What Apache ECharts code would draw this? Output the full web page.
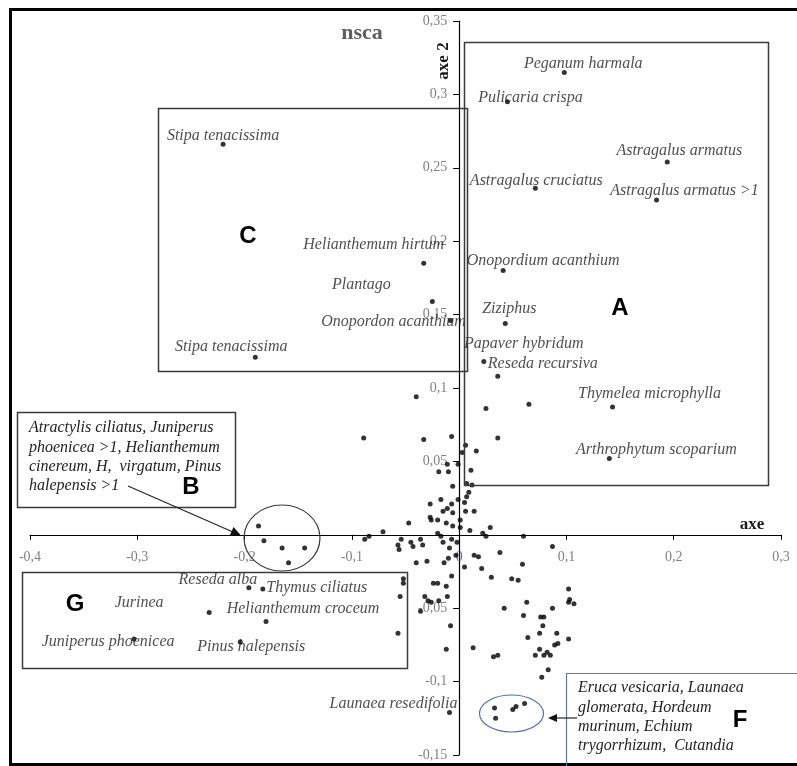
<!DOCTYPE html>
<html>
<head>
<meta charset="utf-8">
<script src="https://cdn.jsdelivr.net/npm/echarts@6/dist/echarts.min.js"></script>
<style>html,body{margin:0;padding:0;background:#fff}#c{width:797px;height:766px}</style>
</head>
<body>
<div id="c"></div>
<script>
// ---- axis ticks ----
const xTicks = [-0.4, -0.3, -0.2, -0.1, 0, 0.1, 0.2, 0.3];
const yTicks = [-0.15, -0.1, -0.05, 0, 0.05, 0.1, 0.15, 0.2, 0.25, 0.3, 0.35];

// ---- labelled species ----
const speciesNames = [
  'Peganum harmala', 'Pulicaria crispa', 'Astragalus armatus', 'Astragalus armatus >1',
  'Astragalus cruciatus', 'Onopordium acanthium', 'Ziziphus', 'Papaver hybridum',
  'Reseda recursiva', 'Thymelea microphylla', 'Arthrophytum scoparium',
  'Stipa tenacissima', 'Helianthemum hirtum', 'Plantago', 'Onopordon acanthium', 'Stipa tenacissima',
  'Reseda alba', 'Thymus ciliatus', 'Jurinea', 'Helianthemum croceum', 'Juniperus phoenicea',
  'Pinus halepensis', 'Launaea resedifolia'
];
const speciesX = [0.098, 0.045, 0.194, 0.184, 0.071, 0.041, 0.043, 0.036, 0.023, 0.143, 0.140,
  -0.220, -0.033, -0.025, -0.008, -0.190, -0.196, -0.183, -0.233, -0.180, -0.303, -0.204, -0.009];
const speciesY = [0.315, 0.295, 0.254, 0.228, 0.236, 0.180, 0.144, 0.108, 0.118, 0.087, 0.052,
  0.266, 0.185, 0.159, 0.146, 0.121, -0.036, -0.037, -0.053, -0.059, -0.071, -0.073, -0.121];

// ---- cluster B (circled) and cluster F (circled) ----
const clusterBX = [-0.187, -0.182, -0.165, -0.144, -0.159];
const clusterBY = [0.006, -0.004, -0.009, -0.009, -0.019];
const clusterFX = [0.033, 0.034, 0.050, 0.053, 0.061];
const clusterFY = [-0.118, -0.125, -0.119, -0.117, -0.115];

// ---- unlabelled cloud ----
const cloudX = [-0.040, 0.025, 0.065, -0.089, -0.033, -0.007, 0.036, 0.006, 0.016, 0.003,
  -0.011, -0.001, -0.019, -0.010, 0.011, -0.006, 0.007, 0.012, 0.009, 0.007,
  -0.027, -0.017, -0.001, 0.005, -0.007, -0.011, -0.015, -0.006, 0.006, 0.014,
  -0.027, -0.026, -0.020, -0.012, -0.047, 0.001, -0.006, 0.001, -0.071, 0.010,
  0.029, 0.022, 0.025, -0.020, -0.017, 0.060, -0.088, -0.084, -0.054, -0.036,
  -0.034, -0.045, -0.043, -0.057, -0.056, -0.015, -0.007, -0.002, -0.009, -0.003,
  0.014, 0.018, 0.038, 0.087, -0.040, -0.030, -0.014, -0.010, 0.005, 0.021,
  0.059, -0.007, 0.030, 0.049, 0.055, -0.052, -0.052, -0.024, -0.020, -0.012,
  0.102, -0.055, -0.032, -0.029, -0.026, -0.019, -0.011, -0.036, 0.102, 0.103,
  0.107, 0.063, 0.042, 0.087, 0.060, 0.076, 0.079, 0.078, -0.008, -0.057,
  0.075, 0.064, 0.091, 0.102, 0.089, 0.092, 0.013, -0.012, 0.032, 0.036,
  0.071, 0.075, 0.079, 0.082, 0.085, 0.083, 0.077];
const cloudY = [0.094, 0.086, 0.089, 0.066, 0.065, 0.067, 0.066, 0.061, 0.057, 0.056,
  0.048, 0.048, 0.043, 0.043, 0.044, 0.033, 0.035, 0.034, 0.029, 0.026,
  0.021, 0.024, 0.024, 0.022, 0.021, 0.018, 0.016, 0.015, 0.016, 0.016,
  0.012, 0.010, 0.010, 0.008, 0.008, 0.010, 0.006, 0.005, 0.002, 0.003,
  0.005, 0.001, -0.001, 0.001, -0.001, -0.001, -0.003, -0.001, -0.003, -0.003,
  -0.007, -0.005, -0.008, -0.007, -0.010, -0.005, -0.003, -0.005, -0.009, -0.014,
  -0.014, -0.015, -0.012, -0.008, -0.019, -0.018, -0.019, -0.016, -0.022, -0.023,
  -0.020, -0.028, -0.029, -0.030, -0.031, -0.030, -0.033, -0.033, -0.033, -0.035,
  -0.037, -0.042, -0.042, -0.045, -0.046, -0.045, -0.042, -0.052, -0.046, -0.044,
  -0.047, -0.046, -0.050, -0.050, -0.055, -0.056, -0.056, -0.062, -0.062, -0.067,
  -0.067, -0.070, -0.067, -0.071, -0.075, -0.074, -0.077, -0.078, -0.083, -0.082,
  -0.082, -0.078, -0.082, -0.080, -0.082, -0.092, -0.097];

// ---- annotation texts ----
const groupLetters = ['A', 'B', 'C', 'F', 'G'];
const groupBLines = ['Atractylis ciliatus, Juniperus', 'phoenicea >1, Helianthemum', 'cinereum, H,  virgatum, Pinus', 'halepensis >1'];
const groupFLines = ['Eruca vesicaria, Launaea', 'glomerata, Hordeum', 'murinum, Echium', 'trygorrhizum,  Cutandia'];
const chartTitle = 'nsca';
const xAxisName = 'axe';
const yAxisName = 'axe 2';

// ---- style / layout (not data) ----
const labelOffsets = [[19,-9],[23,-4],[12,-11],[28,-9],[1,-8],[40,-10],[4,-15],[26,-32],[59,2],[37,-13],[47,-9],
  [0,-9],[-50,-18],[-71,-17],[-57,1],[-24,-10],[-31,-8],[54,-1],[-70,-10],[37,-13],[-26,3],[11,5],[-56,-9]];
const letterPos = {A:[620,308], B:[191,487], C:[248,236], F:[740,720], G:[75,604]};
const SERIF = '"Liberation Serif", "Times New Roman", serif';
const italicFont = 'italic 16px ' + SERIF;
const SYMBOL = 5;

function fmt(v) {
  return String(parseFloat(Number(v).toFixed(2))).replace('.', ',');
}

const cloudData = cloudX.map((x, i) => [x, cloudY[i]])
  .concat(clusterBX.map((x, i) => [x, clusterBY[i]]))
  .concat(clusterFX.map((x, i) => [x, clusterFY[i]]));

const speciesData = speciesNames.map((n, i) => ({
  name: n,
  value: [speciesX[i], speciesY[i]],
  label: {
    show: true,
    position: [SYMBOL / 2 + labelOffsets[i][0], SYMBOL / 2 + labelOffsets[i][1]],
    align: 'center', verticalAlign: 'middle'
  }
}));

function txt(text, x, y, font, fill, align, extra) {
  return Object.assign({
    type: 'text', x: x, y: y, z: 50,
    style: { text: text, font: font, fill: fill, textAlign: align || 'center', textVerticalAlign: 'middle', align: align || 'center', verticalAlign: 'middle' }
  }, extra || {});
}

const graphics = [
  { type: 'rect', z: 40, shape: { x: 10.5, y: 9.5, width: 790, height: 755 }, style: { fill: 'none', stroke: '#000', lineWidth: 3 } },
  { type: 'rect', z: 40, shape: { x: 464.5, y: 42.5, width: 304, height: 443 }, style: { fill: 'none', stroke: '#3a3a3a', lineWidth: 1.5 } },
  { type: 'rect', z: 40, shape: { x: 158.5, y: 108.5, width: 309, height: 263 }, style: { fill: 'none', stroke: '#3a3a3a', lineWidth: 1.5 } },
  { type: 'rect', z: 40, shape: { x: 17.5, y: 412.5, width: 218, height: 95 }, style: { fill: 'none', stroke: '#3a3a3a', lineWidth: 1.5 } },
  { type: 'rect', z: 40, shape: { x: 22.5, y: 572.5, width: 385, height: 96 }, style: { fill: 'none', stroke: '#3a3a3a', lineWidth: 1.5 } },
  { type: 'rect', z: 40, shape: { x: 566.5, y: 673.5, width: 240, height: 110 }, style: { fill: 'none', stroke: '#5a7bb0', lineWidth: 1.2 } },
  { type: 'ellipse', z: 40, shape: { cx: 282, cy: 538, rx: 38, ry: 33 }, style: { fill: 'none', stroke: '#3a3a3a', lineWidth: 1.2 } },
  { type: 'ellipse', z: 40, shape: { cx: 511.5, cy: 713.5, rx: 32, ry: 18.5 }, style: { fill: 'none', stroke: '#4f6fa8', lineWidth: 1.2 } },
  { type: 'line', z: 40, shape: { x1: 128, y1: 486, x2: 233, y2: 532 }, style: { stroke: '#222', lineWidth: 1.2 } },
  { type: 'polygon', z: 40, shape: { points: [[241, 535.5], [230, 535], [233.5, 527]] }, style: { fill: '#111' } },
  { type: 'line', z: 40, shape: { x1: 577, y1: 718, x2: 555, y2: 718 }, style: { stroke: '#222', lineWidth: 1.2 } },
  { type: 'polygon', z: 40, shape: { points: [[548, 718], [557, 714], [557, 722]] }, style: { fill: '#111' } },
  txt(chartTitle, 362, 33, 'bold 22px ' + SERIF, '#5f5f5f'),
  txt(xAxisName, 752, 525, 'bold 17px ' + SERIF, '#1a1a1a'),
  txt(yAxisName, 444, 61, 'bold 17px ' + SERIF, '#1a1a1a', 'center', { rotation: Math.PI / 2 })
];
groupLetters.forEach(l => {
  graphics.push(txt(l, letterPos[l][0], letterPos[l][1], 'bold 24px "Liberation Sans", Arial, sans-serif', '#000'));
});
groupBLines.forEach((t, i) => graphics.push(txt(t, 29, 428 + i * 19.3, italicFont, '#222', 'left')));
groupFLines.forEach((t, i) => graphics.push(txt(t, 578, 688 + i * 19.3, italicFont, '#222', 'left')));

// grid: left 30, top 21, width 751, height 734 -> zero lines at x≈459, y≈535
const GRID = { left: 30, top: 21, width: 751, height: 734 };
const zeroXOffset = -GRID.width * (0 - xTicks[0]) / (xTicks[xTicks.length - 1] - xTicks[0]);
const zeroYOffset = -GRID.height * (0 - yTicks[0]) / (yTicks[yTicks.length - 1] - yTicks[0]);

const chart = echarts.init(document.getElementById('c'), null, { renderer: 'canvas' });
chart.setOption({
  backgroundColor: '#fff',
  animation: false,
  grid: { left: GRID.left, top: GRID.top, width: GRID.width, height: GRID.height, containLabel: false, outerBoundsMode: 'none' },
  xAxis: {
    type: 'value', position: 'bottom', offset: zeroYOffset,
    min: xTicks[0], max: xTicks[xTicks.length - 1], interval: 0.1,
    axisLine: { onZero: false, lineStyle: { color: '#000', width: 1.2 } },
    axisTick: { show: true, inside: false, length: 5, lineStyle: { color: '#000' } },
    splitLine: { show: false },
    axisLabel: {
      margin: 16,
      fontFamily: SERIF, fontSize: 14,
      color: function (v) { return Math.abs(v) < 1e-9 ? '#5a6fb0' : '#808080'; },
      formatter: fmt
    }
  },
  yAxis: {
    type: 'value', position: 'left', offset: zeroXOffset,
    min: yTicks[0], max: yTicks[yTicks.length - 1], interval: 0.05,
    axisLine: { onZero: false, lineStyle: { color: '#000', width: 1.2 } },
    axisTick: { show: true, inside: false, length: 6, lineStyle: { color: '#000' } },
    splitLine: { show: false },
    axisLabel: {
      margin: 12,
      fontFamily: SERIF, fontSize: 14, color: '#808080',
      formatter: function (v) { return Math.abs(v) < 1e-9 ? '' : fmt(v); }
    }
  },
  series: [
    {
      type: 'scatter', symbol: 'circle', symbolSize: SYMBOL,
      itemStyle: { color: '#000' },
      data: cloudData, z: 20
    },
    {
      type: 'scatter', symbol: 'circle', symbolSize: SYMBOL,
      itemStyle: { color: '#000' },
      data: speciesData, z: 21,
      label: {
        show: true,
        formatter: '{b}',
        fontFamily: SERIF, fontStyle: 'italic', fontSize: 16, color: '#222',
        align: 'center', verticalAlign: 'middle'
      },
      labelLayout: { hideOverlap: false }
    }
  ],
  graphic: graphics
});
</script>
</body>
</html>
